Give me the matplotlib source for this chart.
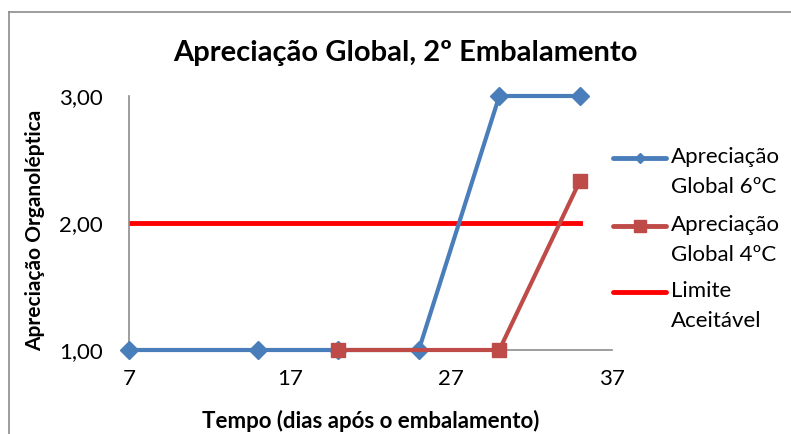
import matplotlib as mpl
import matplotlib.pyplot as plt
from matplotlib.lines import Line2D

mpl.rcParams['font.family'] = ['Lato', 'DejaVu Sans']

# data
dias_6c = [7, 15, 20, 25, 30, 35]
apreciacao_6c = [1, 1, 1, 1, 3, 3]
dias_4c = [20, 30, 35]
apreciacao_4c = [1, 1, 2.33]
dias_limite = [7, 15, 20, 25, 30, 35]
limite = [2, 2, 2, 2, 2, 2]
x_ticks = [7, 17, 27, 37]
y_ticks = [1, 2, 3]
y_tick_labels = ['1,00', '2,00', '3,00']

AZUL = '#4A7EBB'
VERMELHO = '#BE4B48'
LIMITE = '#FF0000'
W, H = 791, 434

fig = plt.figure(figsize=(W / 100, H / 100), dpi=100)
ax = fig.add_axes([129 / W, 1 - 350 / H, (612 - 129) / W, (350 - 96) / H])

# chart area border (only top/left visible in the crop)
fig.add_artist(Line2D([9 / W, 1], [1 - 12 / H] * 2, color='#8c8c8c', lw=1.2))
fig.add_artist(Line2D([9 / W] * 2, [0, 1 - 12 / H], color='#8c8c8c', lw=1.2))

ax.plot(dias_limite, limite, color=LIMITE, lw=3.5, zorder=2)
ax.plot(dias_6c, apreciacao_6c, color=AZUL, lw=3, marker='D', markersize=9,
        zorder=3, clip_on=False)
ax.plot(dias_4c, apreciacao_4c, color=VERMELHO, lw=3, marker='s', markersize=10,
        zorder=4, clip_on=False)

ax.set_xlim(7, 37)
ax.set_ylim(1, 3)
ax.set_xticks(x_ticks)
ax.set_yticks(y_ticks)
ax.set_yticklabels(y_tick_labels)
ax.tick_params(length=0, labelsize=16)
ax.tick_params(axis='y', pad=19)
ax.tick_params(axis='x', pad=14)

for side in ['top', 'right']:
    ax.spines[side].set_visible(False)
for side in ['left', 'bottom']:
    ax.spines[side].set_color('#8c8c8c')
    ax.spines[side].set_linewidth(1.2)

ax.set_xlabel('Tempo (dias após o embalamento)', fontsize=16, fontweight='bold')
ax.xaxis.set_label_coords(0.5, -(410 - 350) / 254)
ax.set_ylabel('Apreciação Organoléptica', fontsize=15, fontweight='bold')
ax.yaxis.set_label_coords(-(129 - 45) / 483, 0.47)
fig.text(405 / W, 1 - 53 / H, 'Apreciação Global, 2º Embalamento',
         fontsize=21, fontweight='bold', ha='center', va='center')

# legend drawn by hand so the key sits on the first text line, like Excel
entradas = [
    ('Apreciação\nGlobal 6ºC', AZUL, 'D', 5, 158),
    ('Apreciação\nGlobal 4ºC', VERMELHO, 's', 8, 226),
    ('Limite\nAceitável', LIMITE, None, 0, 292),
]
for texto, cor, marcador, tam, y in entradas:
    yf = 1 - y / H
    fig.add_artist(Line2D([613 / W, 666 / W], [yf, yf], color=cor, lw=3.5,
                          solid_capstyle='round'))
    if marcador:
        fig.add_artist(Line2D([639.5 / W], [yf], color=cor, marker=marcador,
                              markersize=tam, lw=0))
    fig.text(671 / W, yf + 11 / H, texto, fontsize=16, ha='left', va='top',
             linespacing=1.6)

fig.savefig('out.png', dpi=100)
